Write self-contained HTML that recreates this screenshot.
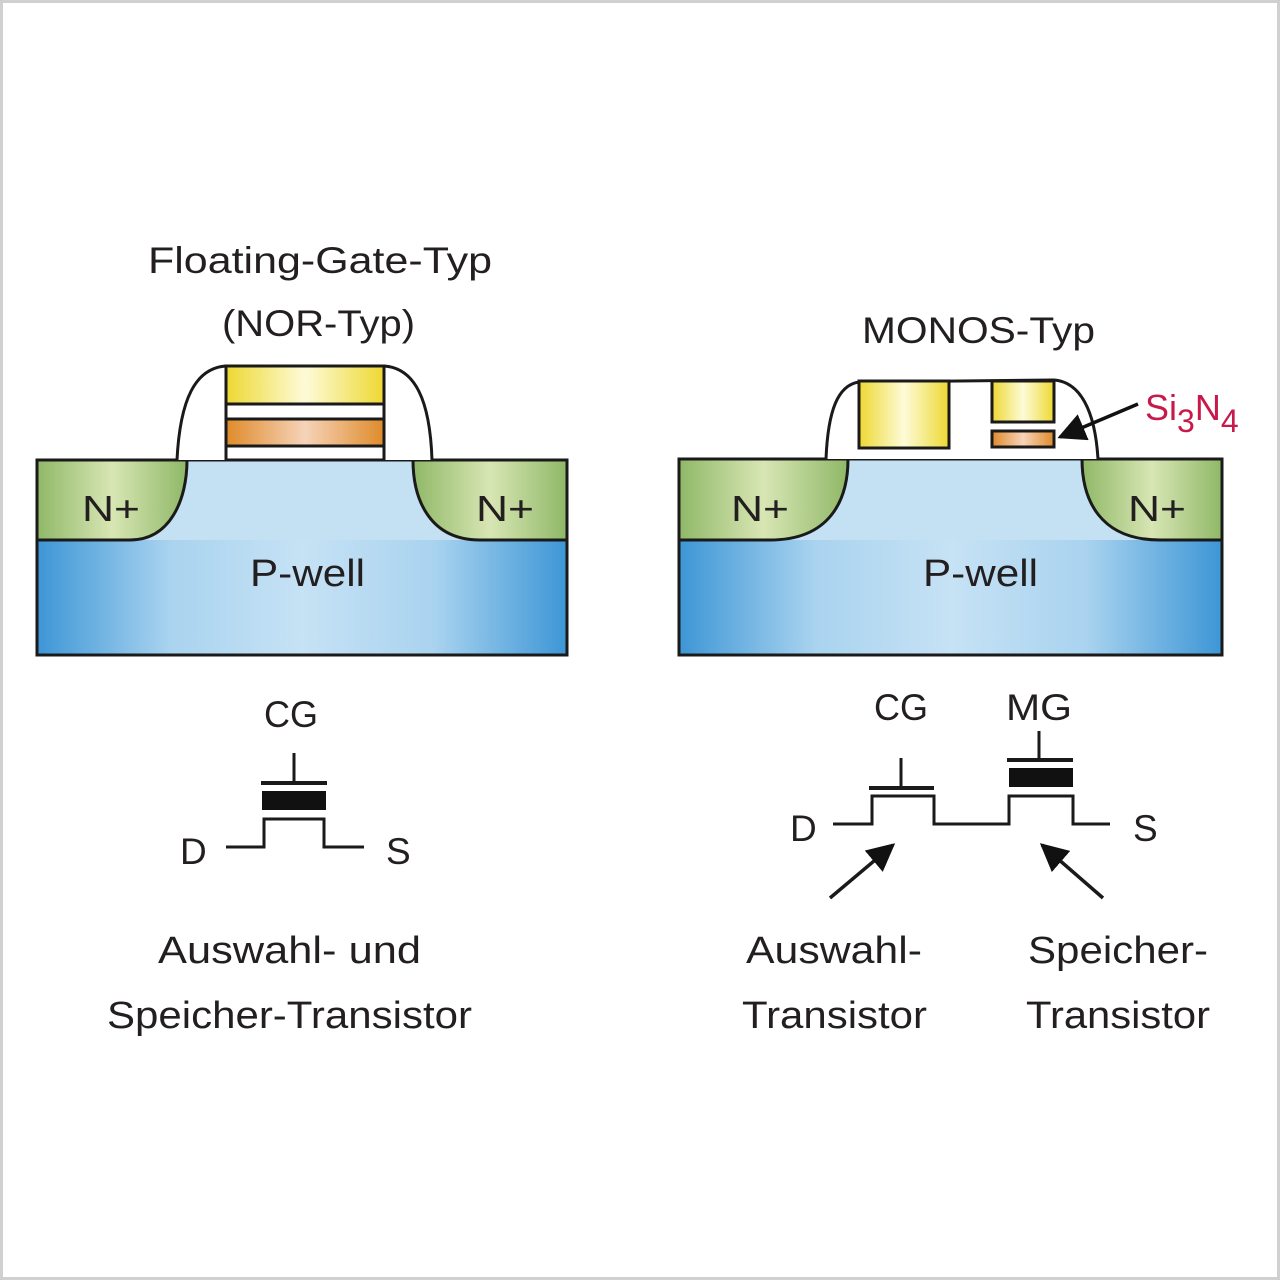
<!DOCTYPE html>
<html><head><meta charset="utf-8"><style>
html,body{margin:0;padding:0;background:#fff;}
svg{display:block;}
text{font-family:"Liberation Sans",sans-serif;fill:#231f20;}
</style></head><body>
<svg width="1280" height="1280" viewBox="0 0 1280 1280" xmlns="http://www.w3.org/2000/svg">
<defs>
<linearGradient id="blue" x1="0" x2="1" y1="0" y2="0">
<stop offset="0" stop-color="#3d96d6"/><stop offset="0.25" stop-color="#a9d3ef"/><stop offset="0.5" stop-color="#c6e2f5"/><stop offset="0.75" stop-color="#a9d3ef"/><stop offset="1" stop-color="#3d96d6"/></linearGradient>
<linearGradient id="green" x1="0" x2="1"><stop offset="0" stop-color="#8fb867"/><stop offset="0.5" stop-color="#d8e6b4"/><stop offset="1" stop-color="#8fb867"/></linearGradient>
<linearGradient id="yel" x1="0" x2="1"><stop offset="0" stop-color="#eed832"/><stop offset="0.5" stop-color="#fdfbd8"/><stop offset="1" stop-color="#eed832"/></linearGradient>
<linearGradient id="org" x1="0" x2="1"><stop offset="0" stop-color="#df8b2a"/><stop offset="0.5" stop-color="#f6d3b9"/><stop offset="1" stop-color="#df8b2a"/></linearGradient>
<marker id="ah" viewBox="0 0 10 10" refX="9" refY="5" markerWidth="8" markerHeight="8" orient="auto"><path d="M0,0 L10,5 L0,10 z" fill="#111"/></marker>
</defs>
<rect x="1.5" y="1.5" width="1277" height="1277" fill="#fff" stroke="#d0d0d0" stroke-width="3"/>

<!-- LEFT cross-section -->
<rect x="37" y="460" width="530" height="195" fill="url(#blue)"/>
<rect x="37" y="460" width="530" height="80" fill="#c4e0f3"/>
<path d="M37,460 L187,460 C187,500 170,540 130,540 L37,540 Z" fill="url(#green)" stroke="#1a1a1a" stroke-width="3"/>
<path d="M567,460 L413,460 C413,500 430,540 480,540 L567,540 Z" fill="url(#green)" stroke="#1a1a1a" stroke-width="3"/>
<rect x="37" y="460" width="530" height="195" fill="none" stroke="#1a1a1a" stroke-width="3"/>
<path d="M177,460 C180,400 195,368 226,366 L384,366 C415,368 430,400 432,460" fill="#fff" stroke="#1a1a1a" stroke-width="3"/>
<rect x="226" y="366" width="158" height="94" fill="#fff" stroke="#1a1a1a" stroke-width="3"/>
<rect x="226" y="366" width="158" height="38" fill="url(#yel)" stroke="#1a1a1a" stroke-width="3"/>
<rect x="226" y="419" width="158" height="27" fill="url(#org)" stroke="#1a1a1a" stroke-width="3"/>
<text x="82" y="521" font-size="36" textLength="58" lengthAdjust="spacingAndGlyphs">N+</text>
<text x="476" y="521" font-size="36" textLength="58" lengthAdjust="spacingAndGlyphs">N+</text>
<text x="250" y="586" font-size="38" textLength="115" lengthAdjust="spacingAndGlyphs" fill="#1e3a55">P-well</text>
<text x="148" y="273" font-size="37" textLength="344" lengthAdjust="spacingAndGlyphs">Floating-Gate-Typ</text>
<text x="222" y="336" font-size="37" textLength="193" lengthAdjust="spacingAndGlyphs">(NOR-Typ)</text>

<!-- RIGHT cross-section -->
<rect x="679" y="459" width="543" height="196" fill="url(#blue)"/>
<rect x="679" y="459" width="543" height="81" fill="#c4e0f3"/>
<path d="M679,459 L848,459 C848,500 830,540 770,540 L679,540 Z" fill="url(#green)" stroke="#1a1a1a" stroke-width="3"/>
<path d="M1222,459 L1082,459 C1082,500 1100,540 1160,540 L1222,540 Z" fill="url(#green)" stroke="#1a1a1a" stroke-width="3"/>
<rect x="679" y="459" width="543" height="196" fill="none" stroke="#1a1a1a" stroke-width="3"/>
<path d="M826,459 C828,410 838,385 859,382 L1054,380 C1080,382 1095,410 1098,459" fill="#fff" stroke="#1a1a1a" stroke-width="3"/>
<rect x="859" y="381" width="90" height="67" fill="url(#yel)" stroke="#1a1a1a" stroke-width="3"/>
<rect x="992" y="381" width="62" height="41" fill="url(#yel)" stroke="#1a1a1a" stroke-width="3"/>
<rect x="992" y="431" width="62" height="16" fill="url(#org)" stroke="#1a1a1a" stroke-width="3"/>
<line x1="1138" y1="404" x2="1060" y2="437" stroke="#111" stroke-width="3.5" marker-end="url(#ah)"/>
<text x="1145" y="420" font-size="36" style="fill:#c8194b">Si<tspan font-size="32" dy="12" style="fill:#c8194b">3</tspan><tspan dy="-12" style="fill:#c8194b">N</tspan><tspan font-size="32" dy="12" style="fill:#c8194b">4</tspan></text>
<text x="731" y="521" font-size="36" textLength="58" lengthAdjust="spacingAndGlyphs">N+</text>
<text x="1128" y="521" font-size="36" textLength="58" lengthAdjust="spacingAndGlyphs">N+</text>
<text x="923" y="586" font-size="38" textLength="115" lengthAdjust="spacingAndGlyphs" fill="#1e3a55">P-well</text>
<text x="862" y="343" font-size="37" textLength="233" lengthAdjust="spacingAndGlyphs">MONOS-Typ</text>

<!-- LEFT symbol -->
<g stroke="#1a1a1a" fill="none" stroke-width="3">
<line x1="294" y1="753" x2="294" y2="783"/>
<line x1="261" y1="783" x2="327" y2="783" stroke-width="4"/>
<path d="M226,847 L264,847 L264,819 L324,819 L324,847 L364,847"/>
</g>
<rect x="262" y="791" width="64" height="19" fill="#111"/>
<text x="264" y="727" font-size="37" textLength="54" lengthAdjust="spacingAndGlyphs">CG</text>
<text x="180" y="864" font-size="37">D</text>
<text x="386" y="864" font-size="37">S</text>
<text x="158" y="963" font-size="38" textLength="263" lengthAdjust="spacingAndGlyphs">Auswahl- und</text>
<text x="107" y="1028" font-size="38" textLength="365" lengthAdjust="spacingAndGlyphs">Speicher-Transistor</text>

<!-- RIGHT symbol -->
<g stroke="#1a1a1a" fill="none" stroke-width="3">
<line x1="901" y1="758" x2="901" y2="788"/>
<line x1="869" y1="788" x2="934" y2="788" stroke-width="4"/>
<path d="M833,824 L872,824 L872,796 L934,796 L934,824 L1009,824 L1009,796 L1073,796 L1073,824 L1110,824"/>
<line x1="1039" y1="731" x2="1039" y2="760"/>
<line x1="1007" y1="760" x2="1073" y2="760" stroke-width="4"/>
<line x1="830" y1="898" x2="893" y2="845" stroke-width="3.5" marker-end="url(#ah)"/>
<line x1="1103" y1="898" x2="1042" y2="845" stroke-width="3.5" marker-end="url(#ah)"/>
</g>
<rect x="1009" y="768" width="64" height="19" fill="#111"/>
<text x="874" y="720" font-size="37" textLength="54" lengthAdjust="spacingAndGlyphs">CG</text>
<text x="1006" y="720" font-size="37" textLength="66" lengthAdjust="spacingAndGlyphs">MG</text>
<text x="790" y="841" font-size="37">D</text>
<text x="1133" y="841" font-size="37">S</text>
<text x="746" y="963" font-size="38" textLength="176" lengthAdjust="spacingAndGlyphs">Auswahl-</text>
<text x="742" y="1028" font-size="38" textLength="185" lengthAdjust="spacingAndGlyphs">Transistor</text>
<text x="1028" y="963" font-size="38" textLength="180" lengthAdjust="spacingAndGlyphs">Speicher-</text>
<text x="1026" y="1028" font-size="38" textLength="184" lengthAdjust="spacingAndGlyphs">Transistor</text>
</svg>
</body></html>
